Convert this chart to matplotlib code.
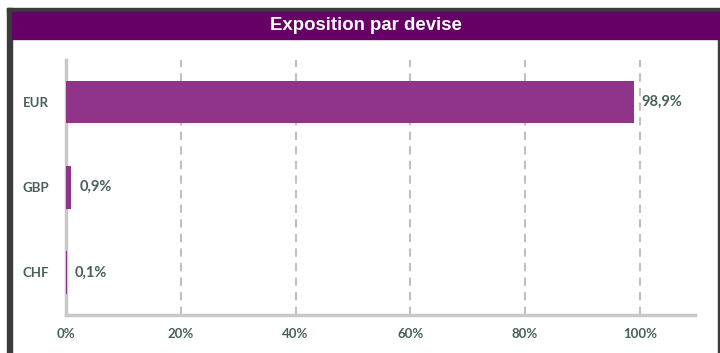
import matplotlib.pyplot as plt
from matplotlib.patches import Rectangle

devises = ["EUR", "GBP", "CHF"]
expo = [98.9, 0.9, 0.1]
labels = ["98,9%", "0,9%", "0,1%"]
ticks = [0, 20, 40, 60, 80, 100]

W, H = 720, 353
fig = plt.figure(figsize=(7.2, 3.53), dpi=100)
txt = "#47605d"

# cadre sombre + bandeau titre
fig.patches.append(Rectangle((7 / W, 0), 5 / W, 1 - 8 / H, transform=fig.transFigure, color="#3b3b3b", zorder=0))
fig.patches.append(Rectangle((7 / W, 1 - 12 / H), 1 - 7 / W, 4 / H, transform=fig.transFigure, color="#3b3b3b", zorder=0))
fig.patches.append(Rectangle((717.5 / W, 0), 2 / W, 1 - 39 / H, transform=fig.transFigure, color="#3b3b3b", zorder=0))
fig.patches.append(Rectangle((12 / W, 1 - 39 / H), 1 - 12 / W, 27 / H, transform=fig.transFigure, color="#660066", zorder=1))
fig.text(366 / W, 1 - 25.5 / H, "Exposition par devise", color="white", ha="center", va="center",
         fontsize=13.4, fontweight="bold", family="Liberation Sans")

ax = fig.add_axes([66 / W, 1 - 315 / H, (695 - 66) / W, (315 - 59.5) / H])
y = list(range(len(devises)))
ax.barh(y, expo, height=0.5, color="#8f3489", zorder=3)
ax.set_ylim(2.5, -0.5)
ax.set_xlim(0, 109.6)
ax.set_yticks(y)
ax.set_yticklabels(devises)
ax.set_xticks(ticks)
ax.set_xticklabels([f"{t}%" for t in ticks])
ax.tick_params(length=0, colors=txt, labelsize=9.5)
ax.tick_params(axis="y", pad=12)
ax.tick_params(axis="x", pad=9)
for lab in ax.get_xticklabels() + ax.get_yticklabels():
    lab.set_family("Lato")
    lab.set_fontweight("bold")
for t in ticks[1:]:
    ax.axvline(t, color="#c0c0c0", linestyle=(0, (4, 3)), linewidth=1.5, zorder=1)
for s in ["top", "right"]:
    ax.spines[s].set_visible(False)
for s in ["left", "bottom"]:
    ax.spines[s].set_color("#c8c8c8")
    ax.spines[s].set_linewidth(2.5)
for yi, v, lab in zip(y, expo, labels):
    ax.annotate(lab, (v, yi), xytext=(8, 0), textcoords="offset pixels", va="center", ha="left",
                color=txt, fontsize=10.5, family="Lato", fontweight="bold")

fig.savefig("out.png", dpi=100)
